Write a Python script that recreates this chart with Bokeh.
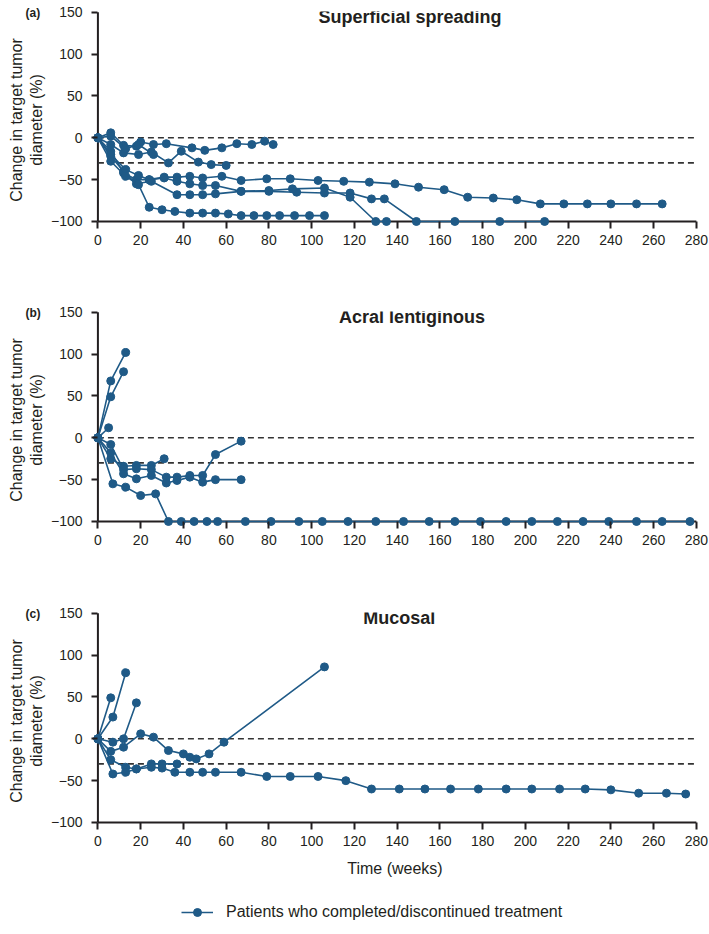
from bokeh.plotting import figure
from bokeh.layouts import column
from bokeh.models import Label, Legend, LegendItem, Title
from bokeh.embed import file_html
from bokeh.resources import INLINE

# ---------------- data ----------------
X_TICKS = [0, 20, 40, 60, 80, 100, 120, 140, 160, 180, 200, 220, 240, 260, 280]
Y_TICKS = [-100, -50, 0, 50, 100, 150]
REF_LEVELS = [0, -30]

# (a) Superficial spreading
SS_WEEKS = [
    [0, 6, 12, 18, 20, 26, 32, 44, 50, 58, 65, 72, 78, 82],
    [0, 6, 12, 19, 25, 33, 39, 47, 53, 60],
    [0, 6, 13, 19, 26],
    [0, 6, 12, 18, 24, 31, 37, 43, 49, 58, 67, 79, 90, 103, 115, 127, 139, 150,
     162, 173, 185, 196, 207, 218, 229, 240, 252, 264],
    [0, 6, 12, 18, 25, 37, 43, 49, 55, 67, 80, 93, 106, 118, 128, 134, 149, 167, 188, 209],
    [0, 6, 13, 19, 24, 31, 37, 43, 49, 55, 67, 80, 91, 106, 118, 130, 135],
    [0, 6, 13, 19, 24, 30, 36, 43, 49, 55, 61, 67, 73, 79, 85, 92, 99, 106],
]
SS_CHANGE = [
    [0, 6, -9, -10, -5, -8, -7, -12, -15, -12, -7, -8, -4, -8],
    [0, -8, -18, -20, -17, -30, -16, -29, -32, -33],
    [0, 2, -13, -8, -20],
    [0, -16, -42, -50, -50, -47, -47, -46, -48, -46, -51, -49, -49, -51, -52, -53, -55, -59,
     -62, -71, -72, -74, -79, -79, -79, -79, -79, -79],
    [0, -22, -40, -55, -52, -68, -68, -68, -67, -64, -64, -65, -66, -66, -73, -73, -100, -100, -100, -100],
    [0, -20, -38, -45, -50, -48, -52, -55, -57, -57, -64, -63, -61, -60, -71, -100, -100],
    [0, -28, -46, -56, -83, -86, -88, -90, -90, -90, -91, -93, -93, -93, -93, -93, -93, -93],
]

# (b) Acral lentiginous
AL_WEEKS = [
    [0, 6, 13],
    [0, 6, 12],
    [0, 5],
    [0, 6, 12, 18, 25, 31],
    [0, 6, 12, 18, 25, 32, 37, 43, 49, 55, 67],
    [0, 6, 12, 18, 25, 32, 37, 43, 49, 55, 67],
    [0, 7, 13, 20, 27, 33, 39, 45, 51, 56, 69, 81, 94, 105, 117, 130, 143, 155, 167,
     179, 191, 203, 215, 227, 239, 252, 264, 277],
]
AL_CHANGE = [
    [0, 68, 102],
    [0, 49, 79],
    [0, 12],
    [0, -25, -34, -33, -33, -25],
    [0, -8, -38, -37, -38, -47, -47, -45, -45, -20, -4],
    [0, -18, -43, -49, -45, -54, -51, -47, -53, -50, -50],
    [0, -55, -59, -69, -67, -100, -100, -100, -100, -100, -100, -100, -100, -100, -100,
     -100, -100, -100, -100, -100, -100, -100, -100, -100, -100, -100, -100, -100],
]

# (c) Mucosal
MU_WEEKS = [
    [0, 6],
    [0, 7, 13],
    [0, 7, 12, 18],
    [0, 6, 12, 20, 26, 33, 40, 43, 46, 52, 59, 106],
    [0, 6, 13, 18, 25, 30, 37],
    [0, 7, 13, 18, 25, 30, 36, 43, 49, 55, 67, 79, 90, 103, 116, 128, 141, 153, 165,
     178, 191, 203, 216, 228, 240, 253, 266, 275],
]
MU_CHANGE = [
    [0, 49],
    [0, 26, 79],
    [0, -4, 0, 43],
    [0, -15, -10, 6, 2, -14, -18, -22, -24, -18, -4, 86],
    [0, -25, -34, -36, -30, -30, -30],
    [0, -42, -40, -36, -34, -35, -40, -40, -40, -40, -40, -45, -45, -45, -50, -60, -60,
     -60, -60, -60, -60, -60, -60, -60, -61, -65, -65, -66],
]

PANELS = [
    ("(a)", "Superficial spreading", SS_WEEKS, SS_CHANGE),
    ("(b)", "Acral lentiginous", AL_WEEKS, AL_CHANGE),
    ("(c)", "Mucosal", MU_WEEKS, MU_CHANGE),
]
LEGEND_LABEL = "Patients who completed/discontinued treatment"

# ---------------- styling / layout ----------------
COLOR = "#1f5a87"
INK = "#231f20"
FONT = "Liberation Sans"
FRAME_H = 217
TOP = 11
HEIGHTS = [300, 301, 290]
TITLE_X = [146, 147, 141]
LEFT = 91
WIDTH = 708


def make_panel(i, tag, title, weeks, changes, last):
    height = HEIGHTS[i]
    p = figure(width=WIDTH, height=height, x_range=(-3, 281), y_range=(-108.4, 151),
               output_backend="svg", toolbar_location=None,
               min_border_left=LEFT, min_border_right=10, min_border_top=TOP,
               min_border_bottom=height - FRAME_H - TOP)
    p.outline_line_color = None
    p.xgrid.visible = False
    p.ygrid.visible = False
    p.background_fill_color = "white"
    p.border_fill_color = "white"

    p.xaxis.ticker = X_TICKS
    p.yaxis.ticker = Y_TICKS
    p.yaxis.major_label_overrides = {-100: "\u2212100", -50: "\u221250"}
    for ax in (p.xaxis, p.yaxis):
        ax.axis_line_color = None
        ax.major_tick_line_width = 2
        ax.major_tick_line_color = INK
        ax.major_tick_out = 0
        ax.minor_tick_line_color = None
        ax.major_label_text_font = FONT
        ax.major_label_text_font_size = "14px"
        ax.major_label_text_color = INK
        ax.axis_label_text_font = FONT
        ax.axis_label_text_font_size = "16px"
        ax.axis_label_text_font_style = "normal"
        ax.axis_label_text_color = INK
    p.yaxis.major_tick_in = 6
    p.xaxis.major_tick_in = 7
    p.xaxis.major_label_standoff = 6
    p.yaxis.major_label_standoff = 9
    p.yaxis.axis_label = "Change in target tumor\ndiameter (%)"
    p.yaxis.axis_label_standoff = 3
    if last:
        p.xaxis.axis_label = "Time (weeks)"
        p.xaxis.axis_label_standoff = 11

    # axis lines through (0 weeks, -100 %)
    p.segment(x0=[X_TICKS[0], X_TICKS[0]], y0=[Y_TICKS[0], Y_TICKS[0]],
              x1=[X_TICKS[0], X_TICKS[-1]], y1=[Y_TICKS[-1], Y_TICKS[0]],
              line_color=INK, line_width=2)

    # reference lines
    p.segment(x0=[X_TICKS[0]] * len(REF_LEVELS), x1=[X_TICKS[-1]] * len(REF_LEVELS),
              y0=REF_LEVELS, y1=REF_LEVELS, line_color="#333333", line_width=1.6,
              line_dash="6 4")

    for wk, ch in zip(weeks, changes):
        p.line(wk, ch, line_color=COLOR, line_width=1.6)
        p.scatter(wk, ch, marker="circle", size=8, fill_color=COLOR, line_color=COLOR)

    p.add_layout(Label(x=TITLE_X[i], y=145, text=title, text_align="center",
                       text_baseline="middle", text_font=FONT, text_font_size="18px",
                       text_font_style="bold", text_color=INK))
    # panel tag, drawn in the (un-clipped) panel above the frame
    p.add_layout(Title(text=tag, align="left", offset=-66, standoff=-16,
                       vertical_align="bottom", text_font=FONT, text_font_size="12px",
                       text_font_style="bold", text_color=INK), "above")
    return p


plots = [make_panel(i, tag, title, w, c, i == len(PANELS) - 1)
         for i, (tag, title, w, c) in enumerate(PANELS)]

# legend strip below the panels (its renderers are hidden; only the key is shown)
lf = figure(width=WIDTH, height=40, output_backend="svg", toolbar_location=None,
            x_axis_type=None, y_axis_type=None, min_border=0)
lf.xgrid.visible = False
lf.ygrid.visible = False
lf.outline_line_color = None
lr = lf.line(MU_WEEKS[0], MU_CHANGE[0], line_color=COLOR, line_width=1.6, visible=False)
sr = lf.scatter(MU_WEEKS[0], MU_CHANGE[0], marker="circle", size=8, fill_color=COLOR,
                line_color=COLOR, visible=False)
legend = Legend(items=[LegendItem(label=LEGEND_LABEL, renderers=[lr, sr])],
                location=(90, 9), orientation="horizontal",
                border_line_color=None, background_fill_alpha=0,
                inactive_fill_alpha=0,
                label_text_font=FONT, label_text_font_size="16px",
                label_text_color=INK, glyph_width=32, label_standoff=13,
                padding=0, margin=0)
lf.add_layout(legend)

layout = column(*plots, lf, spacing=0)

with open("out.html", "w") as f:
    f.write(file_html(layout, INLINE))
